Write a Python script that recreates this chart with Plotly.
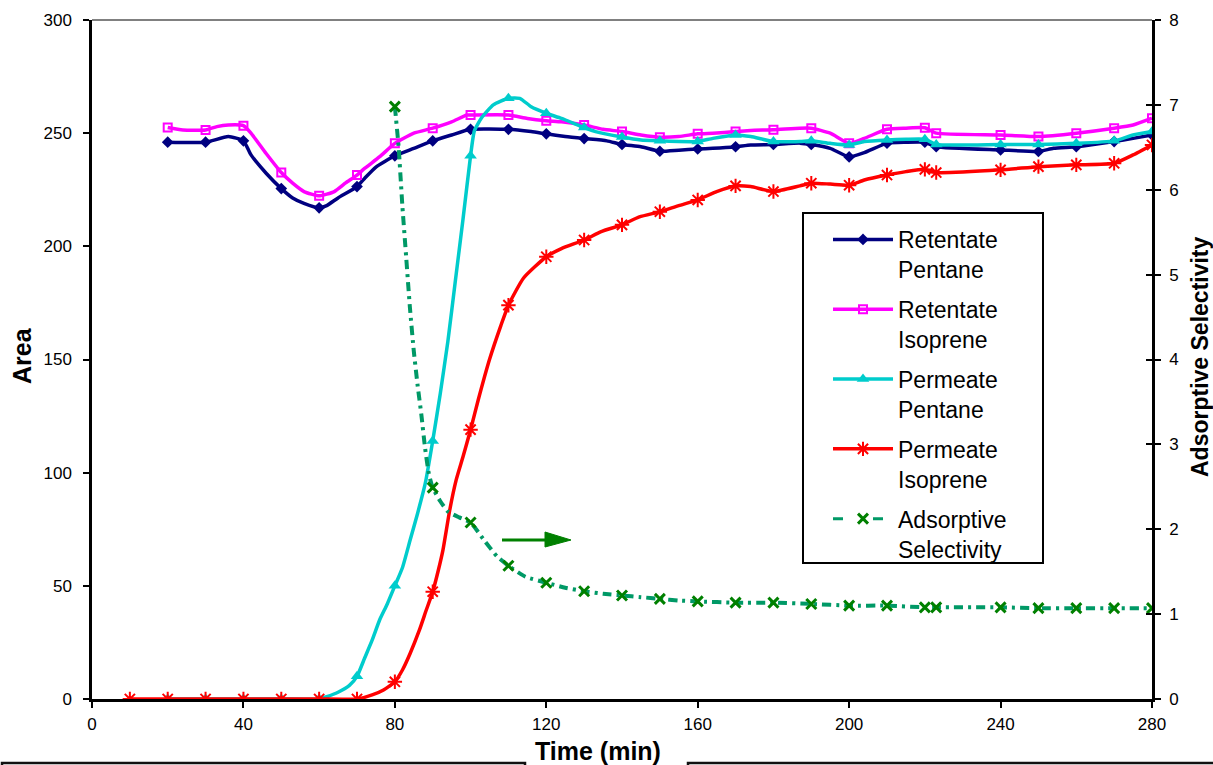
import plotly.graph_objects as go

# ---------------- data ----------------
# Retentate Pentane (Area)
t_rp = [20, 30, 36, 40, 42, 46, 50, 53, 56, 60, 62, 65, 70, 72, 75, 80, 85, 90, 95, 100, 110, 116, 120, 125, 130, 136,
        140, 145, 150, 155, 160, 164, 170, 174, 180, 187, 190, 195, 200, 204, 210, 215, 220, 223, 240, 250, 254, 260,
        270, 275, 280]
y_rp = [246, 246, 248.5, 246.6, 240.4, 232.3, 225.5, 221.4, 219, 217, 218, 221.4, 226.4, 230, 235, 240, 243.3, 246.6,
        249.2, 251.7, 251.7, 250.7, 249.7, 248.5, 247.6, 246.6, 245, 244, 242, 242.5, 243, 243.3, 244, 244.8, 245,
        245.6, 245, 243.3, 239.5, 241.4, 245.6, 246, 246, 244, 242.6, 241.9, 243.3, 244, 246.3, 247.7, 249.2]

# Retentate Isoprene (Area)
t_ri = [20, 24, 30, 33, 36, 40, 42, 46, 50, 53, 56, 60, 64, 67, 70, 72, 76, 80, 85, 90, 95, 99, 100, 110, 115, 120,
        124, 130, 135, 140, 145, 150, 155, 160, 164, 170, 174, 180, 187, 190, 195, 200, 204, 210, 215, 220, 223, 240,
        250, 260, 270, 275, 280]
y_ri = [252.5, 251.4, 251.4, 252.9, 253.6, 253.3, 250, 241, 232.6, 227.9, 224.2, 222.3, 224.2, 228, 231.5, 234.4,
        239.6, 245.5, 250, 252.2, 255, 258, 258, 258, 256.5, 255.5, 255, 253.6, 251.7, 250.7, 249.2, 248.2, 248.5,
        249.7, 250, 250.7, 251.2, 251.5, 252.2, 252.2, 250, 245.5, 247.7, 251.7, 252.2, 252.4, 250, 249.2, 248.5,
        250, 252.2, 253.6, 256.6]

# Permeate Pentane (Area)
t_pp = [20, 30, 40, 50, 60, 62, 65, 68, 70, 72, 74, 76, 78, 80, 82, 84, 86, 88, 90, 92, 94, 96, 98, 100, 101, 103,
        106, 110, 113, 116, 120, 124, 130, 133, 140, 145, 150, 155, 160, 164, 170, 174, 180, 187, 190, 195, 200, 204,
        210, 215, 220, 223, 240, 250, 260, 270, 275, 280]
y_pp = [0, 0, 0, 0, 0, 1, 3, 6, 10, 18, 26, 35, 42, 50, 58, 70, 82, 95, 114, 135, 158, 185, 212, 240, 251, 257,
        262.5, 265.4, 265.4, 261.7, 258.8, 256.5, 252.5, 250.7, 248.3, 247, 246.6, 246.3, 246.3, 247.7, 249.2, 248.5,
        246.3, 246.3, 246.6, 245.5, 244.8, 246.3, 247, 247.3, 247.3, 245, 245, 245, 245.5, 246.6, 249.2, 250.7]

# Permeate Isoprene (Area)
t_pi = [10, 20, 30, 40, 50, 60, 70, 74, 77, 80, 82, 84, 86.5, 88.3, 90, 91.5, 92.7, 94.5, 96.2, 98, 100, 102, 105,
        108, 110, 114, 120, 124, 130, 134.5, 140, 144.6, 150, 155, 160, 165, 170, 174, 180, 187, 190, 195, 200, 204,
        210, 215, 220, 223, 240, 250, 260, 270, 275, 280]
y_pi = [0, 0, 0, 0, 0, 0, 0, 1.8, 4, 7.6, 12.8, 20, 30.5, 39.3, 47.4, 57, 65.8, 83.5, 96.8, 107, 119, 132, 150, 165,
        174, 186, 195.4, 199, 202.8, 206.5, 209.5, 213, 215.3, 218, 220.5, 224.2, 226.7, 226.4, 224.2, 226.7, 227.9,
        227.5, 227, 229.3, 231.5, 233, 234, 232.6, 233.8, 235.2, 236, 236.7, 240.4, 244.8]

# Adsorptive Selectivity (right axis)
t_as = [80, 81, 82, 83, 84, 85, 86, 87, 88, 89, 90, 92, 94, 97, 100, 103.6, 107, 110, 114.5, 120, 125, 130, 135, 140,
        145, 150, 155, 160, 170, 180, 190, 200, 210, 220, 223, 240, 250, 260, 270, 280]
y_as = [6.98, 6.5, 5.8, 5.2, 4.6, 4.1, 3.7, 3.35, 2.95, 2.65, 2.49, 2.33, 2.21, 2.14, 2.08, 1.87, 1.68, 1.57, 1.44,
        1.37, 1.31, 1.27, 1.24, 1.22, 1.20, 1.18, 1.16, 1.15, 1.135, 1.135, 1.12, 1.10, 1.10, 1.08, 1.08, 1.08, 1.07,
        1.07, 1.07, 1.07]

# times at which markers are shown
mk_common = [20, 30, 40, 50, 60, 70, 80, 90, 100, 110, 120, 130, 140, 150, 160, 170, 180, 190, 200, 210, 220, 223,
             240, 250, 260, 270, 280]
mk_rp = mk_common
mk_ri = mk_common
mk_pp = mk_common
mk_pi = [10] + mk_common
mk_as = [t for t in mk_common if t >= 80]

x_ticks = [0, 40, 80, 120, 160, 200, 240, 280]
y_ticks = [0, 50, 100, 150, 200, 250, 300]
y2_ticks = [0, 1, 2, 3, 4, 5, 6, 7, 8]

# ---------------- layout geometry ----------------
W, H = 1213, 765
L, R, T, B = 92, 61, 20, 66
PW = W - L - R
PH = H - T - B


def px_x(px):
    return (px - L) / PW


def px_y(py):
    return (H - B - py) / PH


FONT = "Liberation Sans, Arial, sans-serif"

fig = go.Figure()

series = [
    dict(name="Retentate<br>Pentane", t=t_rp, y=y_rp, mk=mk_rp, color="#000080", axis="y",
         marker=dict(symbol="diamond", size=9, color="#000080")),
    dict(name="Retentate<br>Isoprene", t=t_ri, y=y_ri, mk=mk_ri, color="#FF00FF", axis="y",
         marker=dict(symbol="square-open", size=8, color="#FF00FF", line=dict(width=2, color="#FF00FF"))),
    dict(name="Permeate<br>Pentane", t=t_pp, y=y_pp, mk=mk_pp, color="#00CCCC", axis="y",
         marker=dict(symbol="triangle-up", size=11, color="#00CCCC")),
    dict(name="Permeate<br>Isoprene", t=t_pi, y=y_pi, mk=mk_pi, color="#FF0000", axis="y",
         marker=dict(symbol="asterisk-open", size=12, color="#FF0000", line=dict(width=2, color="#FF0000"))),
    dict(name="Adsorptive<br>Selectivity", t=t_as, y=y_as, mk=mk_as, color="#009966", axis="y2",
         marker=dict(symbol="x-thin-open", size=10, color="#008000", line=dict(width=3, color="#008000")),
         dash="9px,5px,3px,5px"),
]

for s in series:
    lookup = dict(zip(s["t"], s["y"]))
    line = dict(color=s["color"], width=3.5, shape="spline", smoothing=0.5)
    if "dash" in s:
        line["dash"] = s["dash"]
        line["width"] = 4
    fig.add_trace(go.Scatter(x=s["t"], y=s["y"], mode="lines", line=line, yaxis=s["axis"],
                             legendgroup=s["name"], showlegend=False, hoverinfo="skip"))
    fig.add_trace(go.Scatter(x=s["mk"], y=[lookup[t] for t in s["mk"]], mode="markers", marker=s["marker"],
                             yaxis=s["axis"], legendgroup=s["name"], showlegend=False))
    leg_line = dict(color=s["color"], width=3.5)
    if "dash" in s:
        leg_line["dash"] = "10px,30px"
        leg_line["width"] = 3
    leg_marker = dict(s["marker"])
    fig.add_trace(go.Scatter(x=[None], y=[None], mode="lines+markers", name=s["name"], line=leg_line,
                             marker=leg_marker, yaxis=s["axis"], legendgroup=s["name"], showlegend=True))

# invisible trace for the inside ticks of the right axis
fig.add_trace(go.Scatter(x=[None], y=[None], yaxis="y3", showlegend=False, hoverinfo="skip"))

axis_common = dict(showgrid=False, zeroline=False, linecolor="black", linewidth=2.5, ticks="outside",
                   ticklen=6, tickwidth=2, tickcolor="black", tickfont=dict(family=FONT, size=17, color="black"))

fig.update_layout(
    width=W, height=H,
    margin=dict(l=L, r=R, t=T, b=B),
    paper_bgcolor="white", plot_bgcolor="white",
    font=dict(family=FONT, color="black"),
    xaxis=dict(range=[0, 280], tickvals=x_ticks, showline=True, ticklabelstandoff=2, **axis_common),
    yaxis=dict(range=[0, 300], tickvals=y_ticks, showline=True, ticklabelstandoff=8, **axis_common),
    yaxis2=dict(range=[0, 8], tickvals=y2_ticks, overlaying="y", side="right", anchor="x", showline=True,
                ticklabelstandoff=5, **axis_common),
    yaxis3=dict(range=[0, 8], tickvals=y2_ticks, overlaying="y", side="right", anchor="x", showline=False,
                showgrid=False, zeroline=False, ticks="inside", ticklen=6, tickwidth=2, tickcolor="black",
                showticklabels=False),
    legend=dict(x=px_x(828), y=px_y(218), xanchor="left", yanchor="top", bgcolor="rgba(0,0,0,0)",
                borderwidth=0, font=dict(family=FONT, size=23, color="black"),
                traceorder="grouped", tracegroupgap=7, valign="top", itemwidth=60),
    showlegend=True,
)

# legend frame
fig.add_shape(type="rect", xref="paper", yref="paper", x0=px_x(803), x1=px_x(1043), y0=px_y(563), y1=px_y(213),
              fillcolor="white", line=dict(color="black", width=2), layer="above")

# top border of plot area (grey)
fig.add_shape(type="line", xref="paper", yref="paper", x0=0, x1=1, y0=1, y1=1,
              line=dict(color="#808080", width=2))

# arrow pointing to the right axis
fig.add_shape(type="line", xref="paper", yref="paper", x0=px_x(502), x1=px_x(548), y0=px_y(540), y1=px_y(540),
              line=dict(color="#008000", width=3))
fig.add_shape(type="path", xref="paper", yref="paper",
              path=f"M {px_x(545)},{px_y(532)} L {px_x(571)},{px_y(540)} L {px_x(545)},{px_y(547)} Z",
              fillcolor="#008000", line=dict(color="#008000", width=1))

# partial boxes at the bottom edge
fig.add_shape(type="path", xref="paper", yref="paper",
              path=f"M {px_x(2)},{px_y(775)} L {px_x(2)},{px_y(763)} L {px_x(525)},{px_y(763)} L {px_x(525)},{px_y(775)}",
              line=dict(color="#111111", width=2.5))
fig.add_shape(type="path", xref="paper", yref="paper",
              path=f"M {px_x(688)},{px_y(775)} L {px_x(688)},{px_y(763)} L {px_x(1215)},{px_y(763)}",
              line=dict(color="#111111", width=2.5))

# axis titles
fig.add_annotation(text="<b>Area</b>", xref="paper", yref="paper", x=px_x(22), y=px_y(356), textangle=-90,
                   showarrow=False, font=dict(family=FONT, size=25, color="black"),
                   xanchor="center", yanchor="middle")
fig.add_annotation(text="<b>Time (min)</b>", xref="paper", yref="paper", x=px_x(598), y=px_y(751),
                   showarrow=False, font=dict(family=FONT, size=25, color="black"),
                   xanchor="center", yanchor="middle")
fig.add_annotation(text="<b>Adsorptive Selectivity</b>", xref="paper", yref="paper", x=px_x(1200), y=px_y(357),
                   textangle=-90, showarrow=False, font=dict(family=FONT, size=23, color="black"),
                   xanchor="center", yanchor="middle")

fig.write_html("out.html", config={"displayModeBar": False},
               post_script="document.body.style.margin='0px';document.body.style.overflow='hidden';")
